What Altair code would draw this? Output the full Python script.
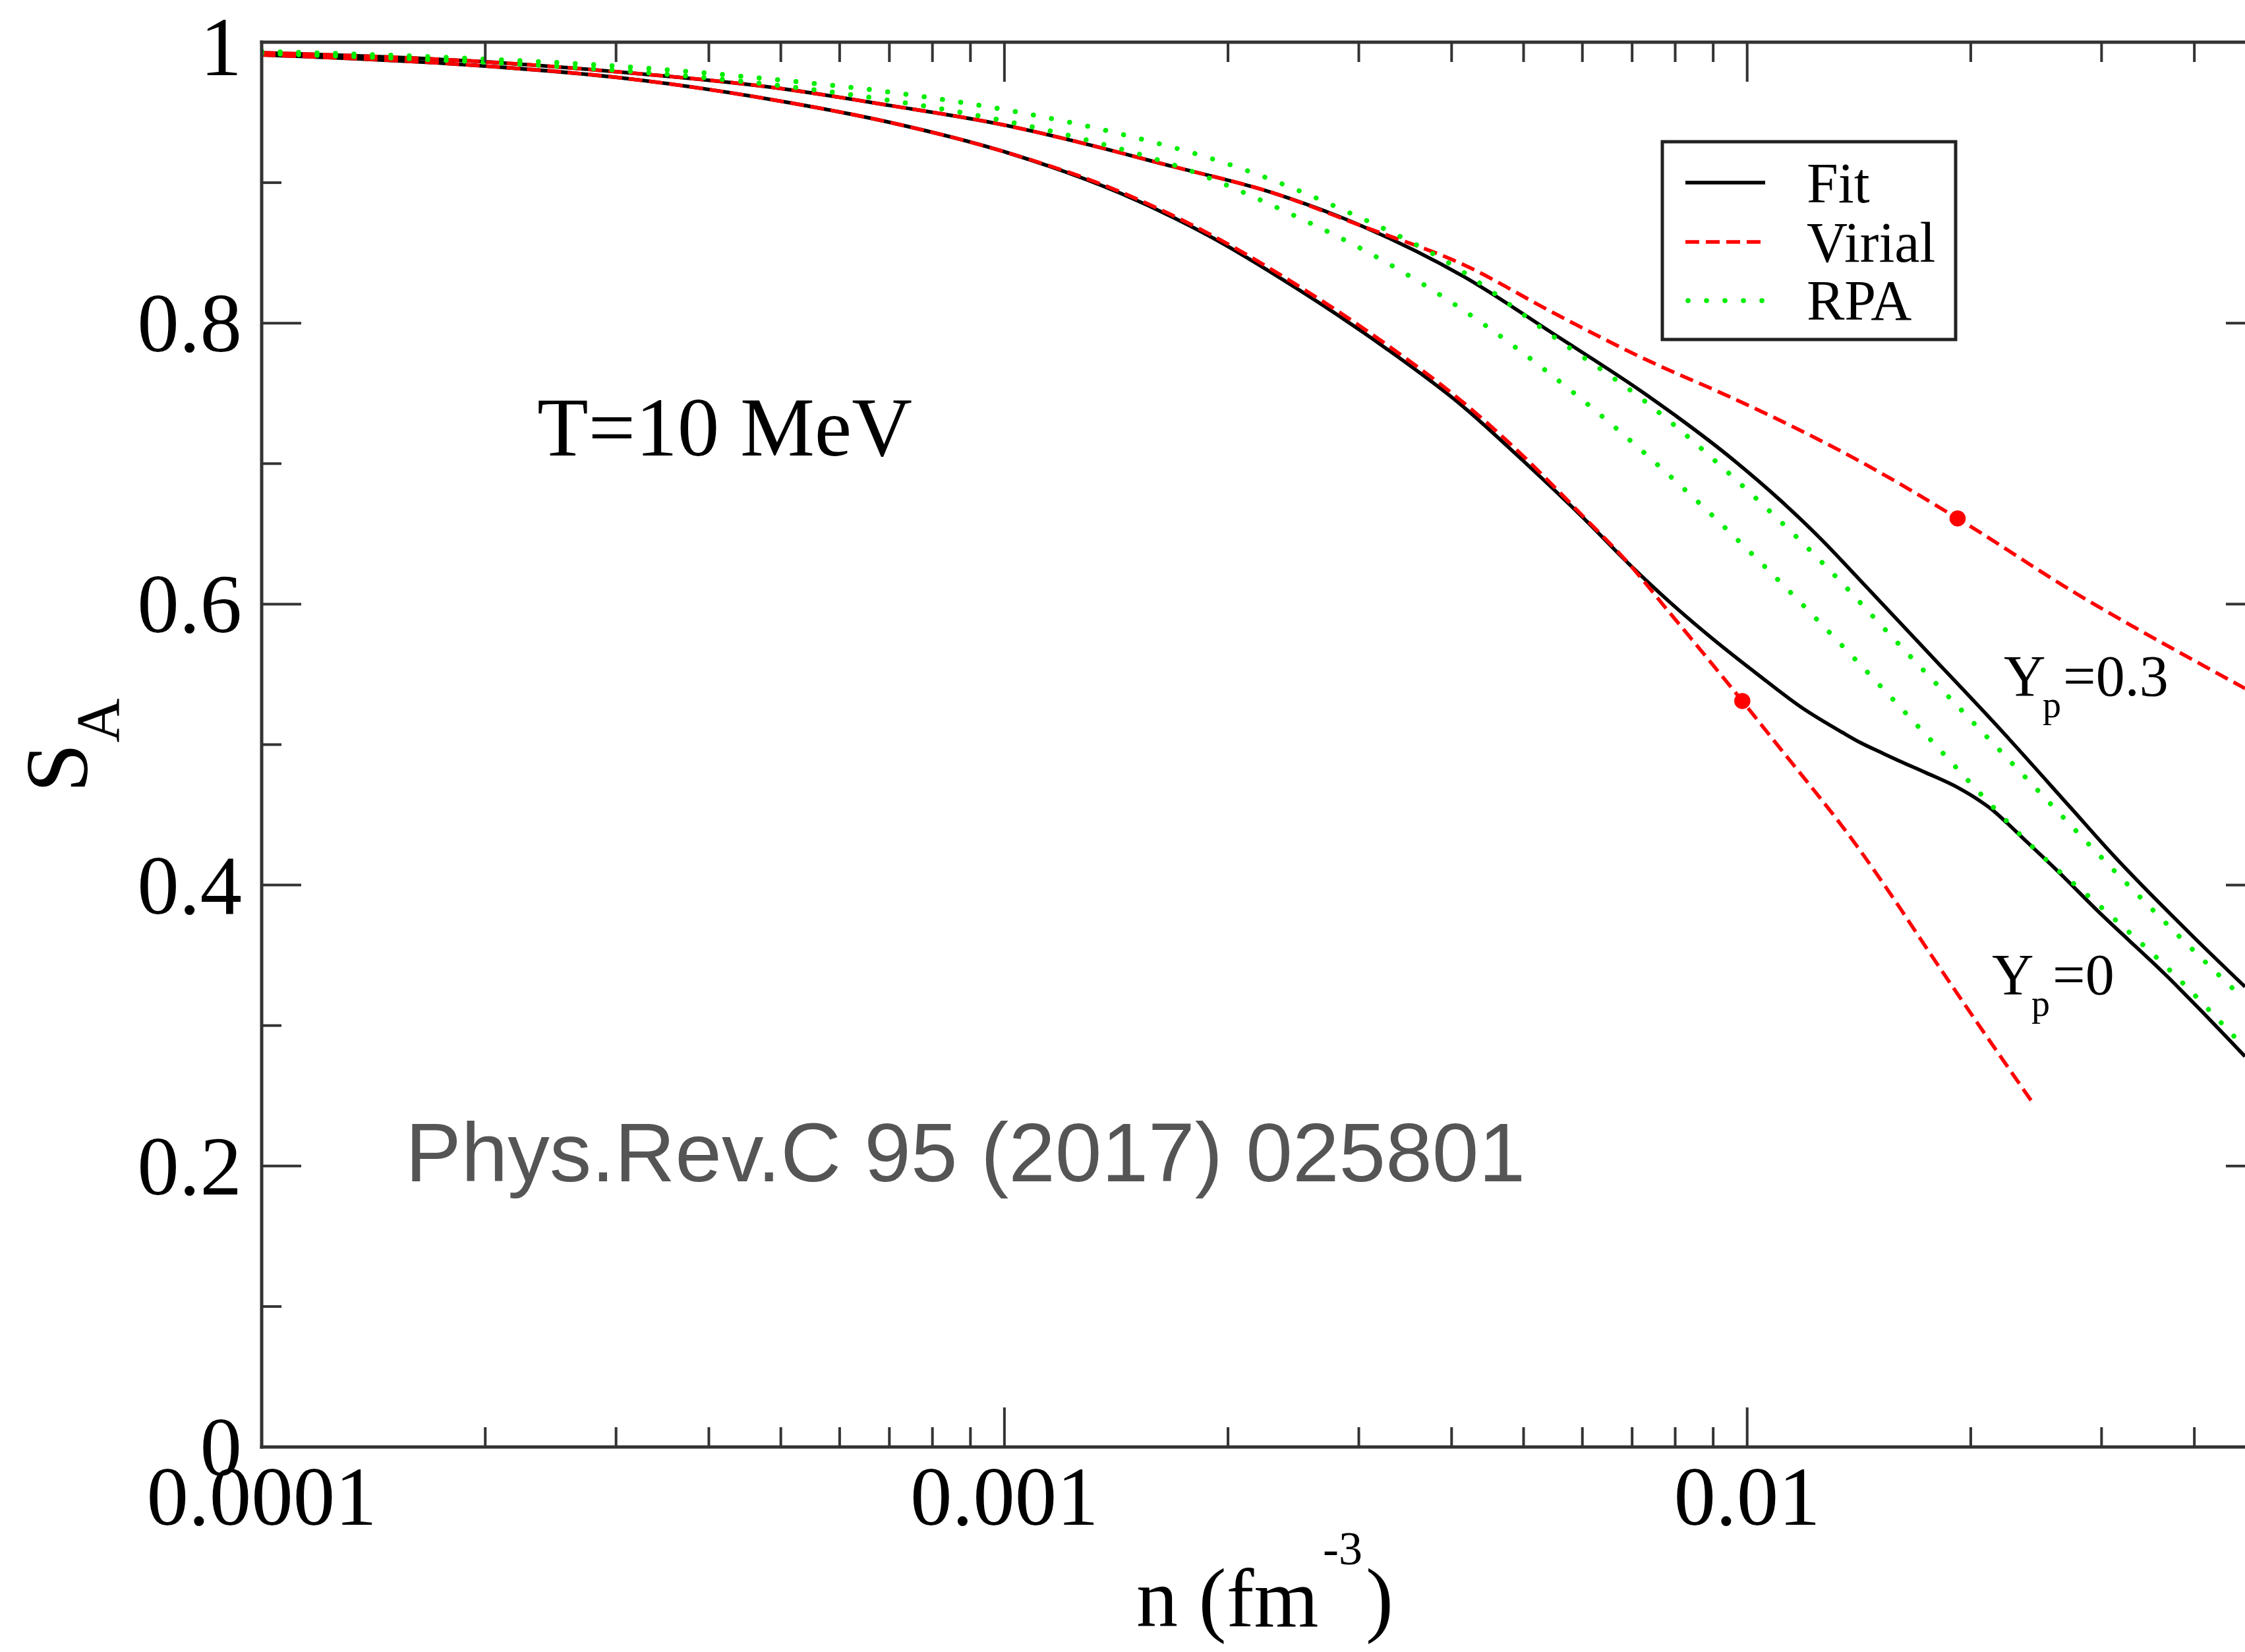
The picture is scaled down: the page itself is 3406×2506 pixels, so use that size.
import altair as alt
import pandas as pd

# ---------------- data ----------------
# Fit, Yp = 0.3
fit03_n = [0.0001, 0.0002, 0.0003, 0.0005, 0.0007, 0.001, 0.0013, 0.001643, 0.002307, 0.003034,
           0.004159, 0.0055, 0.00734, 0.00964, 0.01105, 0.01267, 0.01419, 0.018, 0.02164,
           0.02727, 0.03095, 0.03996, 0.0468]
fit03_s = [0.9925, 0.986, 0.979, 0.967, 0.955, 0.941, 0.927, 0.913, 0.8925, 0.869,
           0.833, 0.792, 0.7485, 0.7015, 0.6745, 0.6445, 0.617, 0.559, 0.514,
           0.455, 0.4225, 0.3627, 0.3276]
# Fit, Yp = 0
fit0_n = [0.0001, 0.0002, 0.0003, 0.0005, 0.0007, 0.001, 0.001432, 0.00188, 0.00247, 0.003245,
          0.004159, 0.00489, 0.006, 0.00695, 0.00786, 0.00901, 0.01033, 0.01183, 0.01355, 0.01419,
          0.0152, 0.016, 0.0174, 0.01928, 0.0205, 0.02133, 0.0224, 0.0235, 0.02618, 0.02972,
          0.03645, 0.0468]
fit0_s = [0.991, 0.983, 0.975, 0.958, 0.943, 0.922, 0.8925, 0.8625, 0.825, 0.783,
          0.740, 0.7065, 0.662, 0.628, 0.6016, 0.5748, 0.55, 0.5265, 0.5075, 0.5015,
          0.494, 0.4885, 0.480, 0.469, 0.4605, 0.454, 0.444, 0.4335, 0.410, 0.381,
          0.337, 0.278]
# Virial, Yp = 0.3
vir03_n = [0.0001, 0.0002, 0.0003, 0.0005, 0.0007, 0.001, 0.0013, 0.001643, 0.002307, 0.003034,
           0.004159, 0.0055, 0.00731, 0.00939, 0.01105, 0.01419, 0.0192, 0.0277, 0.0412, 0.0468]
vir03_s = [0.9925, 0.986, 0.979, 0.967, 0.955, 0.941, 0.927, 0.913, 0.8925, 0.869,
           0.8414, 0.807, 0.774, 0.7485, 0.731, 0.7016, 0.661, 0.6077, 0.556, 0.540]
# Virial, Yp = 0
vir0_n = [0.0001, 0.0002, 0.0003, 0.0005, 0.0007, 0.001, 0.001432, 0.00188, 0.00247, 0.003245,
          0.004159, 0.00489, 0.006, 0.00695, 0.00786, 0.00842, 0.00985, 0.01084, 0.01419, 0.01609,
          0.01706, 0.02438]
vir0_s = [0.991, 0.983, 0.975, 0.958, 0.943, 0.922, 0.8935, 0.864, 0.8275, 0.786,
          0.743, 0.710, 0.663, 0.628, 0.594, 0.575, 0.531, 0.5035, 0.4247, 0.383,
          0.3627, 0.243]
# RPA, Yp = 0.3
rpa03_n = [0.0001, 0.0002, 0.0003, 0.0005, 0.0007, 0.001, 0.0014, 0.00206, 0.002825, 0.004018,
           0.0055, 0.00734, 0.00988, 0.01364, 0.01471, 0.0235, 0.03084, 0.03758, 0.0468]
rpa03_s = [0.9935, 0.988, 0.983, 0.973, 0.9645, 0.952, 0.936, 0.911, 0.8818, 0.841,
           0.790, 0.743, 0.6837, 0.611, 0.5922, 0.4787, 0.413, 0.367, 0.318]
# RPA, Yp = 0
rpa0_n = [0.0001, 0.0002, 0.0003, 0.0005, 0.0007, 0.001, 0.0013, 0.001747, 0.002378, 0.003222,
          0.004101, 0.0059, 0.00794, 0.01057, 0.01392, 0.01758, 0.02134, 0.02457, 0.030, 0.0368,
          0.0468]
rpa0_s = [0.992, 0.9857, 0.980, 0.969, 0.9586, 0.944, 0.930, 0.910, 0.880, 0.845,
          0.811, 0.7485, 0.6894, 0.6265, 0.5617, 0.5045, 0.4566, 0.424, 0.384, 0.341,
          0.284]
# marked virial points
vpt_n = [0.00985, 0.0192]
vpt_s = [0.531, 0.661]

# axis ticks / labels
x_major = [0.0001, 0.001, 0.01]
x_major_text = ["0.0001", "0.001", "0.01"]
x_minor = [0.0002, 0.0003, 0.0004, 0.0005, 0.0006, 0.0007, 0.0008, 0.0009,
           0.002, 0.003, 0.004, 0.005, 0.006, 0.007, 0.008, 0.009,
           0.02, 0.03, 0.04]
y_major = [0, 0.2, 0.4, 0.6, 0.8, 1]
y_major_text = ["0", "0.2", "0.4", "0.6", "0.8", "1"]
y_minor = [0.1, 0.3, 0.5, 0.7, 0.9]
legend_names = ["Fit", "Virial", "RPA"]

# ---------------- layout / style ----------------
W, H = 3009, 2131
SERIF = "Liberation Serif"
AX = "#333333"
RED = "#ff0000"
GREEN = "#00ee00"
LW_FIT, LW_VIR, LW_RPA = 5.5, 5.5, 7.5
DASH_VIR = [21, 10]
DASH_RPA = [0.1, 27.9]

xs = alt.Scale(type="log", domain=[0.0001, 0.0468], nice=False)
ys = alt.Scale(domain=[0, 1], nice=False, zero=False)
X = lambda f: alt.X(f, scale=xs, axis=None)
Y = lambda f: alt.Y(f, scale=ys, axis=None)


def cdf(name, ns, ss):
    return pd.DataFrame({"n": ns, "S": ss, "curve": name})


fit_df = pd.concat([cdf("Yp=0.3", fit03_n, fit03_s), cdf("Yp=0", fit0_n, fit0_s)])
vir_df = pd.concat([cdf("Yp=0.3", vir03_n, vir03_s), cdf("Yp=0", vir0_n, vir0_s)])
rpa_df = pd.concat([cdf("Yp=0.3", rpa03_n, rpa03_s), cdf("Yp=0", rpa0_n, rpa0_s)])
pts_df = pd.DataFrame({"n": vpt_n, "S": vpt_s})
one = pd.DataFrame({"k": [0]})

fit = alt.Chart(fit_df).mark_line(color="#000", strokeWidth=LW_FIT, interpolate="monotone", clip=True).encode(
    x=X("n:Q"), y=Y("S:Q"), detail="curve:N")
vir = alt.Chart(vir_df).mark_line(color=RED, strokeWidth=LW_VIR, strokeDash=DASH_VIR,
                                  interpolate="monotone", clip=True).encode(
    x=X("n:Q"), y=Y("S:Q"), detail="curve:N")
rpa = alt.Chart(rpa_df).mark_line(color=GREEN, strokeWidth=LW_RPA, strokeDash=DASH_RPA, strokeCap="round",
                                  interpolate="monotone", clip=True).encode(
    x=X("n:Q"), y=Y("S:Q"), detail="curve:N")
pts = alt.Chart(pts_df).mark_circle(color=RED, size=600, opacity=1).encode(x=X("n:Q"), y=Y("S:Q"))


def xticks(vals, y0, y1):
    return alt.Chart(pd.DataFrame({"v": vals})).mark_rule(color=AX, strokeWidth=4).encode(
        x=X("v:Q"), y=alt.value(y0), y2=alt.value(y1))


def yticks(vals, x0, x1):
    return alt.Chart(pd.DataFrame({"v": vals})).mark_rule(color=AX, strokeWidth=4).encode(
        y=Y("v:Q"), x=alt.value(x0), x2=alt.value(x1))


ticks = [
    xticks(x_major, H, H - 60), xticks(x_minor, H, H - 30),
    xticks(x_major, 0, 60), xticks(x_minor, 0, 30),
    yticks(y_major, 0, 60), yticks(y_minor, 0, 30),
    yticks(y_major, W - 29, W),
]


def frame(x0, x1, y0, y1):
    return alt.Chart(one).mark_rule(color=AX, strokeWidth=5, strokeCap="square").encode(
        x=alt.value(x0), x2=alt.value(x1), y=alt.value(y0), y2=alt.value(y1))


frames = [frame(0, W, 0, 0), frame(0, W, H, H), frame(0, 0, 0, H)]

# tick labels
x_lab = alt.Chart(pd.DataFrame({"v": x_major, "t": x_major_text})).mark_text(
    font=SERIF, fontSize=127, color="#000", align="center", baseline="alphabetic").encode(
    x=X("v:Q"), y=alt.value(2249), text="t:N")
y_lab_df = pd.DataFrame({"v": y_major, "t": y_major_text})
y_lab = alt.Chart(y_lab_df.iloc[:-1]).mark_text(
    font=SERIF, fontSize=127, color="#000", align="right", baseline="alphabetic", dy=43).encode(
    y=Y("v:Q"), x=alt.value(-30), text="t:N")
# the top label sits a few pixels lower so that it stays inside the page
y_lab_top = alt.Chart(y_lab_df.iloc[-1:]).mark_text(
    font=SERIF, fontSize=127, color="#000", align="right", baseline="alphabetic", dy=50).encode(
    y=Y("v:Q"), x=alt.value(-30), text="t:N")


def txt(s, x, y, size, font=SERIF, color="#000", angle=0, align="left"):
    return alt.Chart(one).mark_text(text=s, font=font, fontSize=size, color=color, angle=angle,
                                    align=align, baseline="alphabetic").encode(
        x=alt.value(x), y=alt.value(y))


# legend (boxed, like the original)
leg_box = alt.Chart(one).mark_rect(fill="white", stroke="#222", strokeWidth=5).encode(
    x=alt.value(2125), x2=alt.value(2570), y=alt.value(151), y2=alt.value(451))
leg_fit = alt.Chart(one).mark_rule(color="#000", strokeWidth=LW_FIT).encode(
    x=alt.value(2160), x2=alt.value(2281), y=alt.value(213))
leg_vir = alt.Chart(one).mark_rule(color=RED, strokeWidth=LW_VIR, strokeDash=DASH_VIR).encode(
    x=alt.value(2160), x2=alt.value(2281), y=alt.value(303))
leg_rpa = alt.Chart(one).mark_rule(color=GREEN, strokeWidth=LW_RPA, strokeDash=DASH_RPA, strokeCap="round").encode(
    x=alt.value(2164), x2=alt.value(2281), y=alt.value(392))
leg_txt = [txt(legend_names[0], 2344, 243, 86), txt(legend_names[1], 2344, 333, 86),
           txt(legend_names[2], 2344, 421, 86)]

annots = [
    txt("T=10 MeV", 418, 627, 127),
    txt("Phys.Rev.C 95 (2017) 025801", 218, 1728, 127, font="Liberation Sans", color="#555555"),
    txt("Y", 2643, 991, 88), txt("p", 2702, 1024, 56), txt("=0.3", 2733, 991, 88),
    txt("Y", 2625, 1444, 88), txt("p", 2685, 1477, 56), txt("=0", 2717, 1444, 88),
    # x-axis title  n (fm^-3)
    txt("n (fm", 1327, 2403, 126), txt("-3", 1610, 2309, 72), txt(")", 1675, 2403, 126),
    # y-axis title  S_A
    txt("S", -265, 1101, 135, angle=270, align="center"),
    txt("A", -217, 1029, 93, angle=270, align="center"),
]

chart = alt.layer(
    fit, vir, rpa, pts, *ticks, *frames, x_lab, y_lab, y_lab_top,
    leg_box, leg_fit, leg_vir, leg_rpa, *leg_txt, *annots,
).properties(
    width=W, height=H,
    autosize=alt.AutoSizeParams(type="none"),
    padding={"left": 397, "top": 64, "right": 0, "bottom": 311},
    background="white",
).configure_view(strokeWidth=0)

chart.save("out.html", embed_options={"renderer": "svg", "actions": False})
